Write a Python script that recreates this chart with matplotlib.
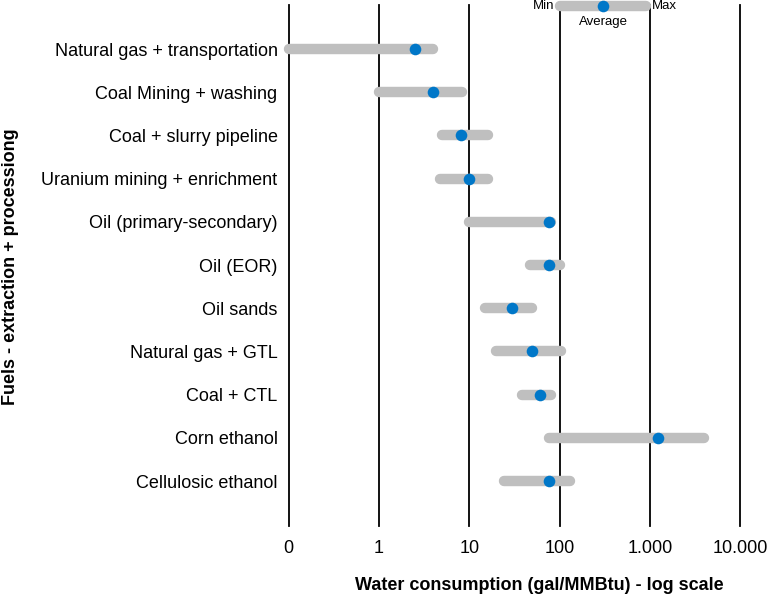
import numpy as np
import matplotlib.pyplot as plt

plt.rcParams['font.family'] = ['Liberation Sans', 'DejaVu Sans']

# Water consumption (gal/MMBtu) per fuel: min, average, max
fuels = ['Natural gas + transportation', 'Coal Mining + washing', 'Coal + slurry pipeline',
         'Uranium mining + enrichment', 'Oil (primary-secondary)', 'Oil (EOR)', 'Oil sands',
         'Natural gas + GTL', 'Coal + CTL', 'Corn ethanol', 'Cellulosic ethanol']
wmin = [0.1, 1, 5, 4.7, 10, 47, 15, 20, 38, 77, 24]
wavg = [2.5, 4, 8, 10, 77, 77, 30, 50, 61, 1220, 77]
wmax = [4, 8.2, 16, 16, 80, 100, 50, 104, 81, 4000, 130]

xticks = [0.1, 1, 10, 100, 1000, 10000]
xticklabels = ['0', '1', '10', '100', '1.000', '10.000']

grey = '#bfbfbf'
blue = '#0077c8'

fig = plt.figure(figsize=(7.67, 6), dpi=100)
ax = fig.add_axes([288.7 / 767, 74 / 600, (767 - 288.7) / 767, 521 / 600])
ax.set_xscale('log')
ax.set_xlim(0.1, 10 ** 4.297)
ax.set_ylim(len(fuels) - 1 + 1.04, -1.02)

for xv in xticks:
    ax.axvline(xv, color='black', lw=1.3, zorder=1, clip_on=False)

y = np.arange(len(fuels))
ax.hlines(y, wmin, wmax, color=grey, lw=7.5, capstyle='round', zorder=2, clip_on=False)
ax.scatter(wavg, y, s=70, color=blue, zorder=3, linewidths=0, clip_on=False)

# legend-like key at the top
ly = -1.0
ax.hlines(ly, 102, 900, color=grey, lw=7.5, capstyle='round', zorder=2, clip_on=False)
ax.scatter([305], [ly], s=70, color=blue, zorder=3, linewidths=0, clip_on=False)
ax.text(88, ly, 'Min', ha='right', va='center', fontsize=9.5)
ax.text(1060, ly, 'Max', ha='left', va='center', fontsize=9.5)
ax.text(305, ly + 0.37, 'Average', ha='center', va='center', fontsize=9.5)

ax.set_yticks(y)
ax.set_yticklabels(fuels, fontsize=13)
ax.set_xticks(xticks)
ax.set_xticklabels(xticklabels, fontsize=13)
ax.xaxis.set_minor_locator(plt.NullLocator())
ax.tick_params(axis='y', length=0, pad=8)
ax.tick_params(axis='x', length=0, pad=10)
for s in ax.spines.values():
    s.set_visible(False)

fig.text(539 / 767, 1 - 585 / 600, 'Water consumption (gal/MMBtu) - log scale',
         ha='center', va='center', fontsize=13, fontweight='bold')
fig.text(11 / 767, 1 - 267 / 600, 'Fuels - extraction + processiong', rotation=90,
         ha='center', va='center', fontsize=13, fontweight='bold')

fig.savefig('out.png', dpi=100)
